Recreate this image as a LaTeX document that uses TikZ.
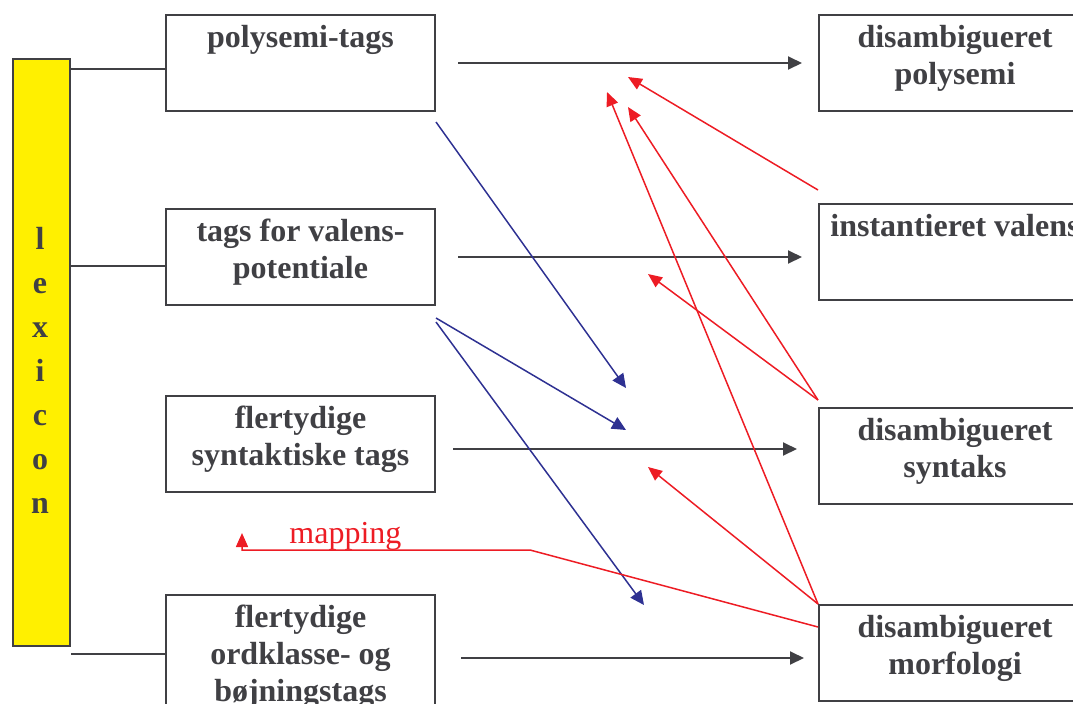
\documentclass[tikz,border=0pt]{standalone}
\usepackage{fontspec}
\setmainfont{Liberation Serif}
\usetikzlibrary{arrows.meta}

\definecolor{lexyellow}{RGB}{255,240,0}
\definecolor{boxgray}{RGB}{64,64,68}
\definecolor{mapred}{RGB}{237,28,36}
\definecolor{linkblue}{RGB}{46,49,146}

\begin{document}
\begin{tikzpicture}[x=0.5pt, y=-0.5pt,
    box/.style={draw=boxgray, line width=1pt, anchor=north west, inner sep=0pt,
        minimum width=134.5pt, minimum height=48pt},
    rbox/.style={box, minimum width=136pt},
    boxtext/.style={font=\fontsize{16}{18.5}\selectfont\bfseries, text=boxgray,
        align=center, anchor=north, inner sep=0pt, yshift=-5.5pt},
    link/.style={draw=boxgray, line width=1pt},
    flow/.style={link, -{Triangle[length=7pt,width=6.5pt]}, shorten <=11pt, shorten >=8pt},
    blue arrow/.style={draw=linkblue, line width=0.75pt, -{Triangle[length=7pt,width=6.5pt]}},
    red arrow/.style={draw=mapred, line width=0.75pt, -{Triangle[length=7pt,width=6pt]}}]
    \clip (0,0) rectangle (1073,703);

    \node[box, fill=lexyellow, minimum width=28.5pt, minimum height=293.5pt] (lexicon) at (12,58) {};
    \node[font=\fontsize{16}{22}\selectfont\bfseries, text=boxgray, align=center] (lexword) at (40,370)
        {l\\e\\x\\i\\c\\o\\n};

    \node[box] (tags1) at (165,14) {};
    \node[box] (tags2) at (165,208) {};
    \node[box] (tags3) at (165,395) {};
    \node[box, minimum height=63pt] (tags4) at (165,594) {};
    \node[boxtext] (tags1text) at (tags1.north) {polysemi-tags};
    \node[boxtext] (tags2text) at (tags2.north) {tags for valens-\\potentiale};
    \node[boxtext] (tags3text) at (tags3.north) {flertydige\\syntaktiske tags};
    \node[boxtext] (tags4text) at (tags4.north) {flertydige\\ordklasse- og\\bøjningstags};

    \node[rbox] (res1) at (818,14) {};
    \node[rbox] (res2) at (818,203) {};
    \node[rbox] (res3) at (818,407) {};
    \node[rbox] (res4) at (818,604) {};
    \node[boxtext] (res1text) at (res1.north) {disambigueret\\polysemi};
    \node[boxtext] (res2text) at (res2.north) {instantieret valens};
    \node[boxtext] (res3text) at (res3.north) {disambigueret\\syntaks};
    \node[boxtext] (res4text) at (res4.north) {disambigueret\\morfologi};

    \draw[link] ([yshift=-3pt]tags1.west) -- ([yshift=-3pt]tags1.west -| lexicon.east);
    \draw[link] ([yshift=-4.5pt]tags2.west) -- ([yshift=-4.5pt]tags2.west -| lexicon.east);
    \draw[link] ([yshift=2pt]tags4.west) -- ([yshift=2pt]tags4.west -| lexicon.east);

    \draw[flow] (tags1.east) -- (tags1.east -| res1.west);
    \draw[flow] (tags2.east) -- (tags2.east -| res2.west);
    \draw[flow, shorten <=8.5pt, shorten >=10.5pt] ([yshift=-2.5pt]tags3.east) -- ([yshift=-2.5pt]tags3.east -| res3.west);
    \draw[flow, shorten <=12.5pt, shorten >=7pt] (tags4.east) -- (tags4.east -| res4.west);

    \coordinate (syn1) at (626,388);
    \coordinate (syn2) at (626,430);
    \coordinate (morf) at (644,605);
    \draw[blue arrow] ([yshift=-5pt]tags1.south east) -- (syn1);
    \draw[blue arrow] ([yshift=-6pt]tags2.south east) -- (syn2);
    \draw[blue arrow] ([yshift=-8pt]tags2.south east) -- (morf);

    \coordinate (pol1) at (628,77);
    \coordinate (pol2) at (607,92);
    \coordinate (pol3) at (628,107);
    \coordinate (val) at (648,274);
    \coordinate (syn) at (648,467);
    \coordinate (bend) at (530,550);
    \coordinate (corner) at (242,550);
    \coordinate (lexmap) at (242,533);
    \draw[red arrow] ([yshift=6.5pt]res2.north west) -- (pol1);
    \draw[red arrow] ([yshift=3.5pt]res3.north west) -- (pol3);
    \draw[red arrow] ([yshift=3.5pt]res3.north west) -- (val);
    \draw[red arrow] (res4.north west) -- (pol2);
    \draw[red arrow] (res4.north west) -- (syn);
    \draw[red arrow] ([yshift=-11.5pt]res4.north west) -- (bend) -- (corner) -- (lexmap);
    \node[font=\fontsize{16}{18}\selectfont, text=mapred, anchor=base west, inner sep=0pt] (maplabel) at (289,543) {mapping};
\end{tikzpicture}
\end{document}
